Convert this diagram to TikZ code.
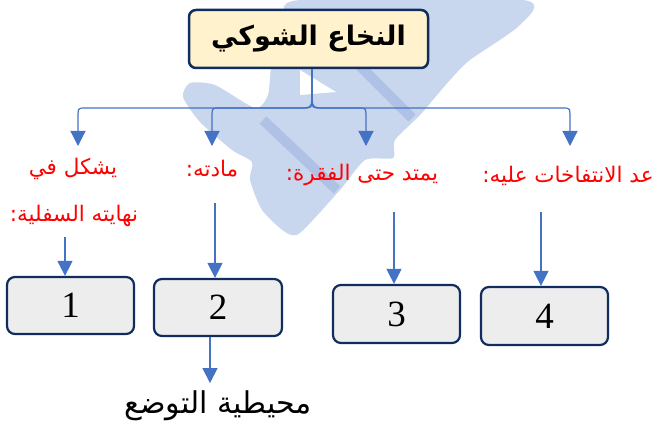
\documentclass[tikz,border=0pt]{standalone}
\usepackage{fontspec}
\setmainfont{Liberation Serif}
\newfontfamily\arabicfont[Script=Arabic]{DejaVu Sans}
\TeXXeTstate=1
\usetikzlibrary{arrows.meta}
\definecolor{navy}{HTML}{112D5E}
\definecolor{conblue}{HTML}{4472C4}
\definecolor{titlefill}{HTML}{FFF2CC}
\definecolor{boxfill}{HTML}{EDEDED}
\definecolor{wmlight}{HTML}{C9D7EE}
\definecolor{wmdark}{HTML}{AFC2E5}
\definecolor{labred}{HTML}{FF0000}
\tikzset{
  titlebox/.style={draw=navy, line width=2.5pt, fill=titlefill, rounded corners=7pt,
    minimum width=239pt, minimum height=58pt, inner sep=0pt,
    font=\arabicfont\bfseries\fontsize{27}{30}\selectfont},
  numbox/.style={draw=navy, line width=2.2pt, fill=boxfill, rounded corners=8pt,
    minimum width=127pt, minimum height=57pt, inner sep=0pt,
    font=\fontsize{37}{40}\selectfont},
  redlabel/.style={text=labred, inner sep=0pt, font=\arabicfont\fontsize{21.5}{24}\selectfont},
  blacklabel/.style={text=black, inner sep=0pt, font=\arabicfont\fontsize{30}{32}\selectfont},
  conn/.style={draw=conblue, line width=1.2pt, -{Triangle[width=15pt,length=15pt]}},
}
\begin{document}
\begin{tikzpicture}[x=1pt,y=-1pt]
\useasboundingbox (0,0) rectangle (662,425);
% watermark
\fill[wmlight] plot[smooth cycle, tension=0.4] coordinates {
  (300,0) (523,0) (520,25) (470,60) (450,80) (420,115) (395,140) (393,158)
  (365,160) (340,190) (300,233) (285,232) (262,210) (250,180) (252,162)
  (232,150) (200,122) (183,97) (190,83) (215,85) (255,108) (268,95) (272,60) (285,20)};
\fill[white] (300,70) -- (336,92) -- (300,95) -- cycle;
\draw[wmdark, line width=10pt] (263,120) -- (337,190);
\draw[wmdark, line width=10pt] (352,58) -- (412,118);
% title
\node[titlebox] (title) at (308.5,39) {\beginR النخاع الشوكي\endR};
% labels
\node[redlabel] (lab1a) at (73,169) {\beginR يشكل في\endR};
\node[redlabel] (lab1b) at (74,216) {\beginR نهايته السفلية:\endR};
\node[redlabel] (lab2) at (212,169) {\beginR مادته:\endR};
\node[redlabel] (lab3) at (362,175) {\beginR يمتد حتى الفقرة:\endR};
\node[redlabel] (lab4) at (568,176) {\beginR عد الانتفاخات عليه:\endR};
% boxes
\node[numbox] (box1) at (70.5,305.5) {1};
\node[numbox, minimum width=128pt] (box2) at (218,307.5) {2};
\node[numbox, minimum height=58pt] (box3) at (396.5,314) {3};
\node[numbox, minimum height=58pt] (box4) at (544.5,316) {4};
\node[blacklabel] (bottom) at (218,406) {\beginR محيطية التوضع\endR};
% branch tips
\coordinate (t1) at (78,146);
\coordinate (t2) at (212,146);
\coordinate (t3) at (366,146);
\coordinate (t4) at (570,146);
% connectors from title
\draw[conn] ([xshift=3.5pt]title.south) -- (312,92) .. controls (312,108) .. (298,108) -- (84,108) .. controls (78,108) .. (78,120) -- (t1);
\draw[conn] ([xshift=3.5pt]title.south) -- (312,97) .. controls (312,108) .. (304,108) -- (218,108) .. controls (212,108) .. (212,120) -- (t2);
\draw[conn] ([xshift=3.5pt]title.south) -- (312,97) .. controls (312,108) .. (320,108) -- (360,108) .. controls (366,108) .. (366,120) -- (t3);
\draw[conn] ([xshift=3.5pt]title.south) -- (312,92) .. controls (312,108) .. (326,108) -- (564,108) .. controls (570,108) .. (570,120) -- (t4);
% label to box connectors
\coordinate (s1) at (65,237);
\coordinate (s2) at (215,203);
\coordinate (s3) at (394,212);
\coordinate (s4) at (541,212);
\draw[conn] (s1) -- (s1 |- box1.north);
\draw[conn] (s2) -- (s2 |- box2.north);
\draw[conn] (s3) -- (s3 |- box3.north);
\draw[conn] (s4) -- (s4 |- box4.north);
\draw[conn] ([xshift=-8pt]box2.south) -- ++(0,46);
\end{tikzpicture}
\end{document}
